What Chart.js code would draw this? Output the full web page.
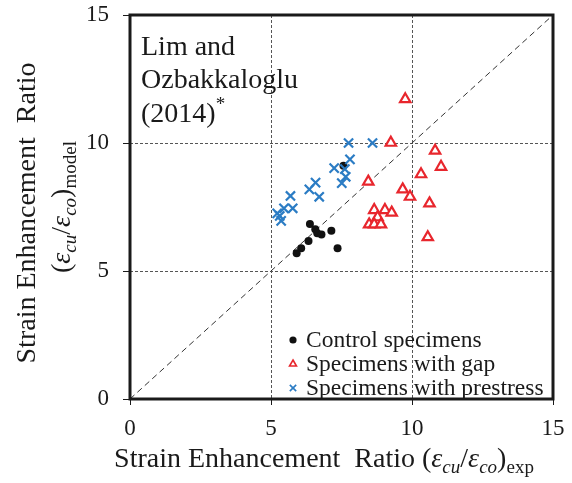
<!DOCTYPE html>
<html>
<head>
<meta charset="utf-8">
<script src="https://cdn.jsdelivr.net/npm/chart.js@4"></script>
<style>
  html, body { margin: 0; padding: 0; background: #fff; }
  #wrap { width: 572px; height: 483px; }
</style>
</head>
<body>
<div id="wrap"><canvas id="c" width="572" height="483"></canvas></div>
<script>
// valeurs (exp, model)
const controlX = [6.38, 6.57, 6.64, 6.79, 7.14, 6.33, 6.07, 5.91, 7.36, 7.57];
const controlY = [6.84, 6.63, 6.47, 6.43, 6.57, 6.17, 5.89, 5.69, 5.89, 9.11];

const gapX = [9.25, 10.82, 11.03, 10.32, 8.45, 9.67, 9.93, 10.62, 8.66, 9.04, 9.28, 8.78, 8.48, 8.66, 8.90, 10.56, 9.76];
const gapY = [10.01, 9.70, 9.07, 8.78, 8.49, 8.19, 7.90, 7.64, 7.38, 7.38, 7.28, 7.10, 6.82, 6.82, 6.82, 6.32, 11.71];

const prestressX = [7.75, 8.60, 7.80, 7.24, 7.62, 7.65, 7.51, 6.58, 6.36, 6.71, 5.69, 5.46, 5.77, 5.22, 5.31, 5.36];
const prestressY = [10.0, 10.0, 9.36, 9.02, 8.98, 8.68, 8.43, 8.45, 8.19, 7.90, 7.93, 7.45, 7.45, 7.25, 7.15, 6.96];

const lineX = [0, 15];
const lineY = [0, 15];

const axisTicks = [0, 5, 10, 15];
const legendLabels = ['Control specimens', 'Specimens with gap', 'Specimens with prestress'];
const noteLines = ['Lim and', 'Ozbakkaloglu', '(2014)'];

const SERIF = '"Liberation Serif", "Times New Roman", serif';
const RED = '#e8262d';
const BLUE = '#2b7cc4';

const pts = (xs, ys) => xs.map((x, i) => ({ x, y: ys[i] }));

// texte avec indices / italique
function drawRuns(ctx, runs, x, y, size, align) {
  const sizeOf = (r) => (r.sub || r.sup) ? size * 0.68 : size;
  const fontOf = (r) => (r.it ? 'italic ' : '') + sizeOf(r) + 'px ' + SERIF;
  let w = 0;
  runs.forEach(r => { ctx.font = fontOf(r); w += ctx.measureText(r.t).width; });
  let cx = align === 'center' ? x - w / 2 : x;
  ctx.textAlign = 'left';
  ctx.textBaseline = 'alphabetic';
  runs.forEach(r => {
    ctx.font = fontOf(r);
    const dy = r.sub ? size * 0.22 : (r.sup ? -size * 0.42 : 0);
    ctx.fillText(r.t, cx, y + dy);
    cx += ctx.measureText(r.t).width;
  });
}

const decor = {
  id: 'decor',
  afterDraw(chart) {
    const { ctx, chartArea: a } = chart;
    ctx.save();
    ctx.strokeStyle = '#1a1a1a';
    ctx.lineWidth = 3;
    ctx.strokeRect(a.left, a.top, a.right - a.left, a.bottom - a.top);

    ctx.fillStyle = '#1a1a1a';
    // annotation
    ctx.font = '28px ' + SERIF;
    ctx.textAlign = 'left';
    ctx.textBaseline = 'alphabetic';
    ctx.fillText(noteLines[0], 141, 55);
    ctx.fillText(noteLines[1], 141, 88);
    drawRuns(ctx, [{ t: noteLines[2] }, { t: '*', sup: true }], 141, 122, 28, 'left');

    // titre x
    drawRuns(ctx, [
      { t: 'Strain Enhancement  Ratio (' }, { t: 'ε', it: true }, { t: 'cu', it: true, sub: true },
      { t: '/' }, { t: 'ε', it: true }, { t: 'co', it: true, sub: true }, { t: ')' }, { t: 'exp', sub: true }
    ], 324, 467, 28, 'center');

    // titre y
    ctx.save();
    ctx.translate(35, 213);
    ctx.rotate(-Math.PI / 2);
    drawRuns(ctx, [{ t: 'Strain Enhancement  Ratio' }], 0, 0, 28, 'center');
    ctx.restore();
    ctx.save();
    ctx.translate(70, 207);
    ctx.rotate(-Math.PI / 2);
    drawRuns(ctx, [
      { t: '(' }, { t: 'ε', it: true }, { t: 'cu', it: true, sub: true },
      { t: '/' }, { t: 'ε', it: true }, { t: 'co', it: true, sub: true }, { t: ')' }, { t: 'model', sub: true }
    ], 0, 0, 28, 'center');
    ctx.restore();

    // légende
    const sets = chart.data.datasets.slice(0, 3);
    const legendSize = [2.8, 4, 4.5];
    sets.forEach((ds, i) => {
      const y = 340 + i * 24;
      ctx.strokeStyle = ds.borderColor;
      ctx.fillStyle = ds.backgroundColor;
      ctx.lineWidth = 1.6;
      Chart.helpers.drawPoint(ctx, { pointStyle: ds.pointStyle, radius: legendSize[i], borderWidth: 1.6 }, 293, y);
      ctx.fillStyle = '#1a1a1a';
      ctx.font = '23.5px ' + SERIF;
      ctx.textBaseline = 'middle';
      ctx.fillText(legendLabels[i], 306, y + 1);
    });
    ctx.restore();
  }
};

const gridColor = (c) => (c.tick && (c.tick.value === 5 || c.tick.value === 10)) ? '#555' : 'rgba(0,0,0,0)';

new Chart(document.getElementById('c').getContext('2d'), {
  type: 'scatter',
  data: {
    datasets: [
      {
        label: legendLabels[0], data: pts(controlX, controlY), order: 2,
        pointStyle: 'circle', pointRadius: 4, borderWidth: 0,
        backgroundColor: '#111', borderColor: '#111'
      },
      {
        label: legendLabels[1], data: pts(gapX, gapY), order: 3,
        pointStyle: 'triangle', pointRadius: 6, borderWidth: 2.2,
        backgroundColor: '#fff', borderColor: RED
      },
      {
        label: legendLabels[2], data: pts(prestressX, prestressY), order: 1,
        pointStyle: 'crossRot', pointRadius: 6.5, borderWidth: 2.2,
        backgroundColor: BLUE, borderColor: BLUE
      },
      {
        label: 'y = x', data: pts(lineX, lineY), order: 4,
        showLine: true, pointRadius: 0, borderWidth: 1,
        borderColor: '#333', borderDash: [6, 4]
      }
    ]
  },
  options: {
    responsive: false,
    animation: false,
    layout: { padding: { top: 15, right: 19, left: 0, bottom: 0 } },
    plugins: { legend: { display: false }, tooltip: { enabled: false } },
    scales: {
      x: {
        min: 0, max: 15,
        afterFit: (s) => { s.height = 84; s.paddingLeft = 0; s.paddingRight = 0; },
        afterBuildTicks: (s) => { s.ticks = axisTicks.map(v => ({ value: v })); },
        ticks: { font: { family: SERIF, size: 23 }, color: '#1a1a1a', padding: 10, maxRotation: 0 },
        grid: { color: gridColor, lineWidth: 1, tickColor: '#1a1a1a', tickLength: 6, tickBorderDash: [] },
        border: { display: false, dash: [3, 2] }
      },
      y: {
        min: 0, max: 15,
        afterFit: (s) => { s.width = 130; s.paddingTop = 0; s.paddingBottom = 0; },
        afterBuildTicks: (s) => { s.ticks = axisTicks.map(v => ({ value: v })); },
        ticks: { font: { family: SERIF, size: 23 }, color: '#1a1a1a', padding: 14 },
        grid: { color: gridColor, lineWidth: 1, tickColor: '#1a1a1a', tickLength: 7, tickBorderDash: [] },
        border: { display: false, dash: [3, 2] }
      }
    }
  },
  plugins: [decor]
});
</script>
</body>
</html>
